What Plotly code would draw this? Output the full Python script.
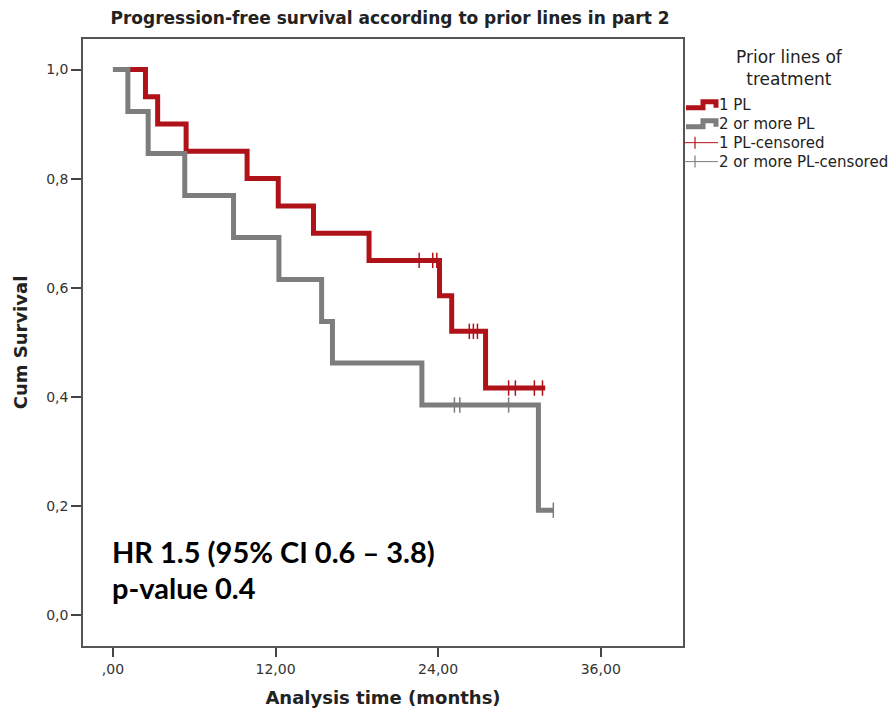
import plotly.graph_objects as go

# ---- data ----
pl1_time = [0, 2.4, 3.3, 5.4, 9.9, 12.2, 14.8, 18.9, 24.1, 25.0, 27.5, 31.9]
pl1_surv = [1.0, 0.95, 0.90, 0.85, 0.80, 0.75, 0.70, 0.65, 0.585, 0.52, 0.416, 0.416]
pl1_cens_time = [22.6, 23.6, 23.9, 26.3, 26.6, 26.9, 29.2, 29.7, 31.1, 31.7]
pl1_cens_surv = [0.65, 0.65, 0.65, 0.52, 0.52, 0.52, 0.416, 0.416, 0.416, 0.416]

pl2_time = [0, 1.1, 2.6, 5.3, 8.9, 12.25, 15.4, 16.2, 22.8, 31.4, 32.5]
pl2_surv = [1.0, 0.923, 0.846, 0.769, 0.692, 0.615, 0.538, 0.462, 0.385, 0.192, 0.192]
pl2_cens_time = [25.2, 25.6, 29.2, 32.5]
pl2_cens_surv = [0.385, 0.385, 0.385, 0.192]

x_tickvals = [0, 12, 24, 36]
x_ticktext = [",00", "12,00", "24,00", "36,00"]
y_tickvals = [0.0, 0.2, 0.4, 0.6, 0.8, 1.0]
y_ticktext = ["0,0", "0,2", "0,4", "0,6", "0,8", "1,0"]

series_names = ["1 PL", "2 or more PL", "1 PL-censored", "2 or more PL-censored"]
legend_title = "Prior lines of<br>treatment"
chart_title = "Progression-free survival according to prior lines in part 2"
stats_lines = ["HR 1.5 (95% CI 0.6 – 3.8)", "p-value 0.4"]

RED = "#b01219"
GRAY = "#7d7d7d"
W, H = 896, 717
L, R, T, B = 83, 213, 39, 69
PW, PH = W - L - R, H - T - B


def px_x(px):
    return (px - L) / PW


def px_y(py):
    return (H - B - py) / PH


fig = go.Figure()
fig.add_trace(go.Scatter(x=pl1_time, y=pl1_surv, mode="lines", name=series_names[0],
                         line=dict(color=RED, width=5, shape="hv"), showlegend=False))
fig.add_trace(go.Scatter(x=pl2_time, y=pl2_surv, mode="lines", name=series_names[1],
                         line=dict(color=GRAY, width=5, shape="hv"), showlegend=False))
fig.add_trace(go.Scatter(x=pl1_cens_time, y=pl1_cens_surv, mode="markers", name=series_names[2],
                         marker=dict(symbol="line-ns", size=11, line=dict(color=RED, width=1.5)),
                         showlegend=False))
fig.add_trace(go.Scatter(x=pl2_cens_time, y=pl2_cens_surv, mode="markers", name=series_names[3],
                         marker=dict(symbol="line-ns", size=11, line=dict(color=GRAY, width=1.5)),
                         showlegend=False))

# statistics text
fig.add_annotation(x=px_x(110), y=px_y(553), xref="paper", yref="paper", xanchor="left", yanchor="middle",
                   text="<b>%s</b>" % stats_lines[0], showarrow=False,
                   font=dict(family="Lato", size=29, color="#000"))
fig.add_annotation(x=px_x(110), y=px_y(589), xref="paper", yref="paper", xanchor="left", yanchor="middle",
                   text="<b>%s</b>" % stats_lines[1], showarrow=False,
                   font=dict(family="Lato", size=29, color="#000"))

# custom legend (SPSS style)
fig.add_annotation(x=px_x(789), y=px_y(68), xref="paper", yref="paper",
                   xanchor="center", yanchor="middle", text=legend_title, showarrow=False,
                   font=dict(family="DejaVu Sans", size=17, color="#222"))

item_y = [105, 124, 143, 162]
for i, name in enumerate(series_names):
    fig.add_annotation(x=px_x(717), y=px_y(item_y[i]), xref="paper", yref="paper",
                       xanchor="left", yanchor="middle", text=name, showarrow=False,
                       font=dict(family="DejaVu Sans", size=15, color="#222"))

for i, col in enumerate([RED, GRAY]):
    yc = item_y[i]
    path = "M {a},{b} L {c},{b} L {c},{d} L {e},{d} L {e},{b}".format(
        a=px_x(686), b=px_y(yc + 3), c=px_x(703), d=px_y(yc - 3), e=px_x(716))
    fig.add_shape(type="path", path=path, xref="paper", yref="paper",
                  line=dict(color=col, width=5), layer="above")
for i, col in enumerate([RED, GRAY]):
    yc = item_y[i + 2]
    fig.add_shape(type="line", x0=px_x(684), x1=px_x(718), y0=px_y(yc), y1=px_y(yc),
                  xref="paper", yref="paper", line=dict(color=col, width=1))
    fig.add_shape(type="line", x0=px_x(695), x1=px_x(695), y0=px_y(yc - 6), y1=px_y(yc + 6),
                  xref="paper", yref="paper", line=dict(color=col, width=1.2))

fig.update_layout(
    width=W, height=H,
    margin=dict(l=L, r=R, t=T, b=B),
    paper_bgcolor="white", plot_bgcolor="white",
    showlegend=False,
    title=dict(text="<b>%s</b>" % chart_title,
               x=390 / W, xanchor="center", y=1 - 18 / H, yanchor="middle",
               font=dict(family="DejaVu Sans", size=17, color="#222")),
    xaxis=dict(range=[-2.21, 42.07], tickvals=x_tickvals, ticktext=x_ticktext,
               showgrid=False, zeroline=False, showline=True, mirror=True,
               linecolor="#555", linewidth=1.5, ticks="outside", ticklen=9, tickcolor="#444",
               tickwidth=1.5,
               tickfont=dict(family="DejaVu Sans", size=14, color="#333"),
               title=dict(text="<b>Analysis time (months)</b>", standoff=16,
                          font=dict(family="DejaVu Sans", size=18, color="#222"))),
    yaxis=dict(range=[-0.057, 1.056], tickvals=y_tickvals, ticktext=y_ticktext,
               showgrid=False, zeroline=False, showline=True, mirror=True,
               linecolor="#555", linewidth=1.5, ticks="outside", ticklen=10, tickcolor="#444",
               tickwidth=1.5,
               tickfont=dict(family="DejaVu Sans", size=14, color="#333"),
               title=dict(text="<b>Cum Survival</b>", standoff=14,
                          font=dict(family="DejaVu Sans", size=18, color="#222"))),
)

fig.write_html("out.html", config={"displayModeBar": False},
               post_script="document.body.style.margin='0px';")
